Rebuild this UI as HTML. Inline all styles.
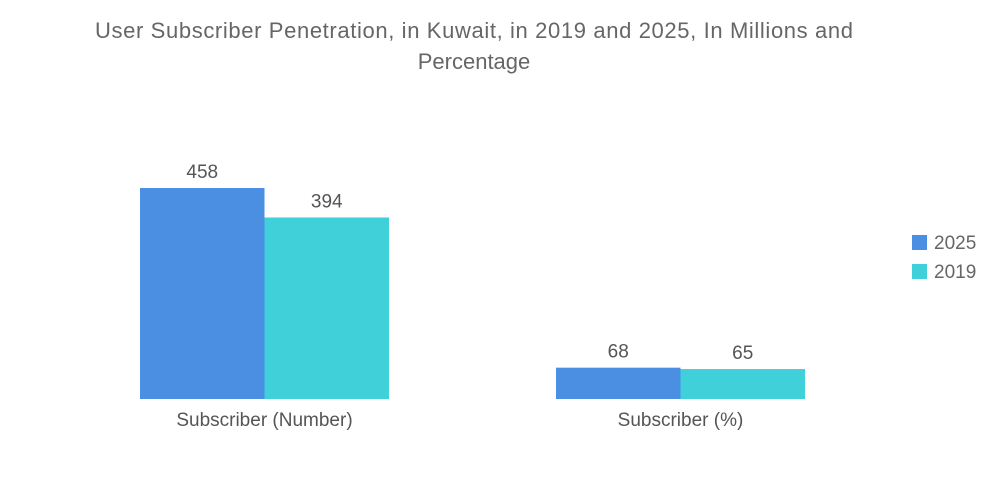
<!DOCTYPE html>
<html><head><meta charset="utf-8"><style>
body{margin:0;background:#fff;font-family:"Liberation Sans",sans-serif;}
svg{display:block}
</style></head><body>
<svg id="chart" width="1000" height="504">
<text x="474" y="38" text-anchor="middle" font-size="22" fill="#666" textLength="758" lengthAdjust="spacing">User Subscriber Penetration, in Kuwait, in 2019 and 2025, In Millions and</text>
<text x="474" y="69" text-anchor="middle" font-size="22" fill="#666">Percentage</text>
<g id="bars"></g>
<g>
<rect x="912" y="235" width="15" height="15" fill="#4a8fe2"/>
<text x="934" y="249" font-size="19" fill="#666">2025</text>
<rect x="912" y="264" width="15" height="15" fill="#3fd0d9"/>
<text x="934" y="278" font-size="19" fill="#666">2019</text>
</g>
</svg>
<script>
const categories=["Subscriber (Number)","Subscriber (%)"];
const series2025=[458,68];
const series2019=[394,65];
const g=document.getElementById('bars');
const ns="http://www.w3.org/2000/svg";
const baseY=399, scale=211/458;
const groupX=[140,556], barW=124.5;
function y(v){return baseY-v*scale;}
function add(tag,attrs,text){const e=document.createElementNS(ns,tag);for(const k in attrs)e.setAttribute(k,attrs[k]);if(text!==undefined)e.textContent=text;g.appendChild(e);return e;}
categories.forEach((c,i)=>{
  [[series2025,"#4a8fe2","2025"],[series2019,"#3fd0d9","2019"]].forEach((s,j)=>{
    const v=s[0][i];const x=groupX[i]+j*barW;
    const r=add('rect',{x:x,y:y(v),width:barW,height:baseY-y(v),fill:s[1]});
    
    
    const t=add('text',{x:x+barW/2,y:y(v)-10,'text-anchor':'middle','font-size':19,fill:'#555'},String(v));
    
    
  });
  const l=add('text',{x:groupX[i]+barW,y:426,'text-anchor':'middle','font-size':19,fill:'#555'},c);
  
  
});
</script>
</body></html>
